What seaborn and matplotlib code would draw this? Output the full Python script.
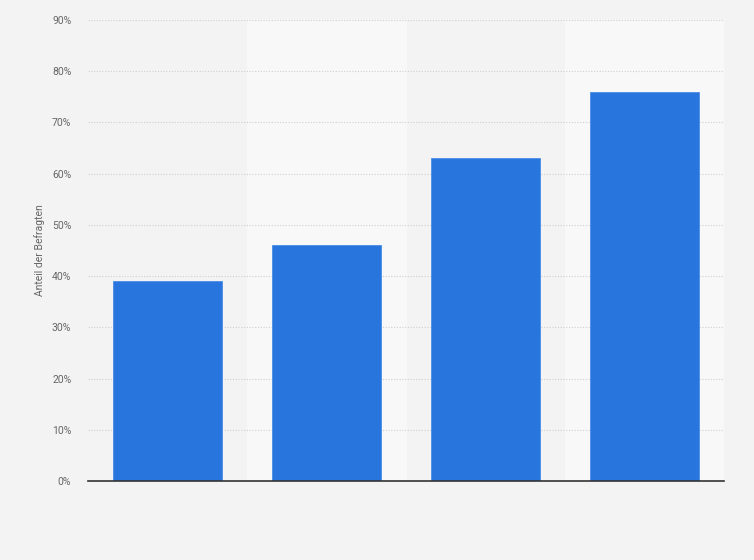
import matplotlib
matplotlib.use('Agg')
import matplotlib.pyplot as plt
import seaborn as sns
import pandas as pd
from matplotlib.ticker import PercentFormatter

# Values (share of respondents, %)
categories = ['1', '2', '3', '4']
values = [39, 46, 63, 76]
y_ticks = list(range(0, 100, 10))

df = pd.DataFrame({'category': categories, 'value': values})

sns.set_theme(style='white')
plt.rcParams['font.family'] = ['Roboto', 'DejaVu Sans']

fig = plt.figure(figsize=(7.54, 5.6), dpi=100, facecolor='#f3f3f3')
ax = fig.add_axes([88 / 754, 1 - 481 / 560, (724 - 88) / 754, (481 - 20) / 560])
ax.set_facecolor('#f3f3f3')

# alternating column bands
for i in range(len(categories)):
    if i % 2 == 1:
        ax.axvspan(i - 0.5, i + 0.5, color='#f8f8f8', zorder=0)

sns.barplot(data=df, x='category', y='value', color='#2876dd', width=0.686,
            saturation=1, edgecolor='#4a8de6', linewidth=0.6, ax=ax, zorder=3)

ax.set_xlim(-0.5, len(categories) - 0.5)
ax.set_ylim(0, 90)
ax.set_yticks(y_ticks)
ax.yaxis.set_major_formatter(PercentFormatter(decimals=0))
ax.grid(axis='y', color='#cfcfcf', linestyle=(0, (1, 1.5)), linewidth=0.8, zorder=1)
ax.set_axisbelow(True)

for side in ['top', 'right', 'left']:
    ax.spines[side].set_visible(False)
ax.spines['bottom'].set_color('#333333')
ax.spines['bottom'].set_linewidth(1.2)
ax.spines['bottom'].set_zorder(4)

ax.tick_params(axis='y', length=0, labelsize=7.5, labelcolor='#666666', pad=12)
ax.tick_params(axis='x', length=0, labelbottom=False)
ax.set_xlabel('')
ax.set_ylabel('Anteil der Befragten', fontsize=7.5, color='#666666', labelpad=5)

fig.savefig('out.png', dpi=100, facecolor=fig.get_facecolor())
